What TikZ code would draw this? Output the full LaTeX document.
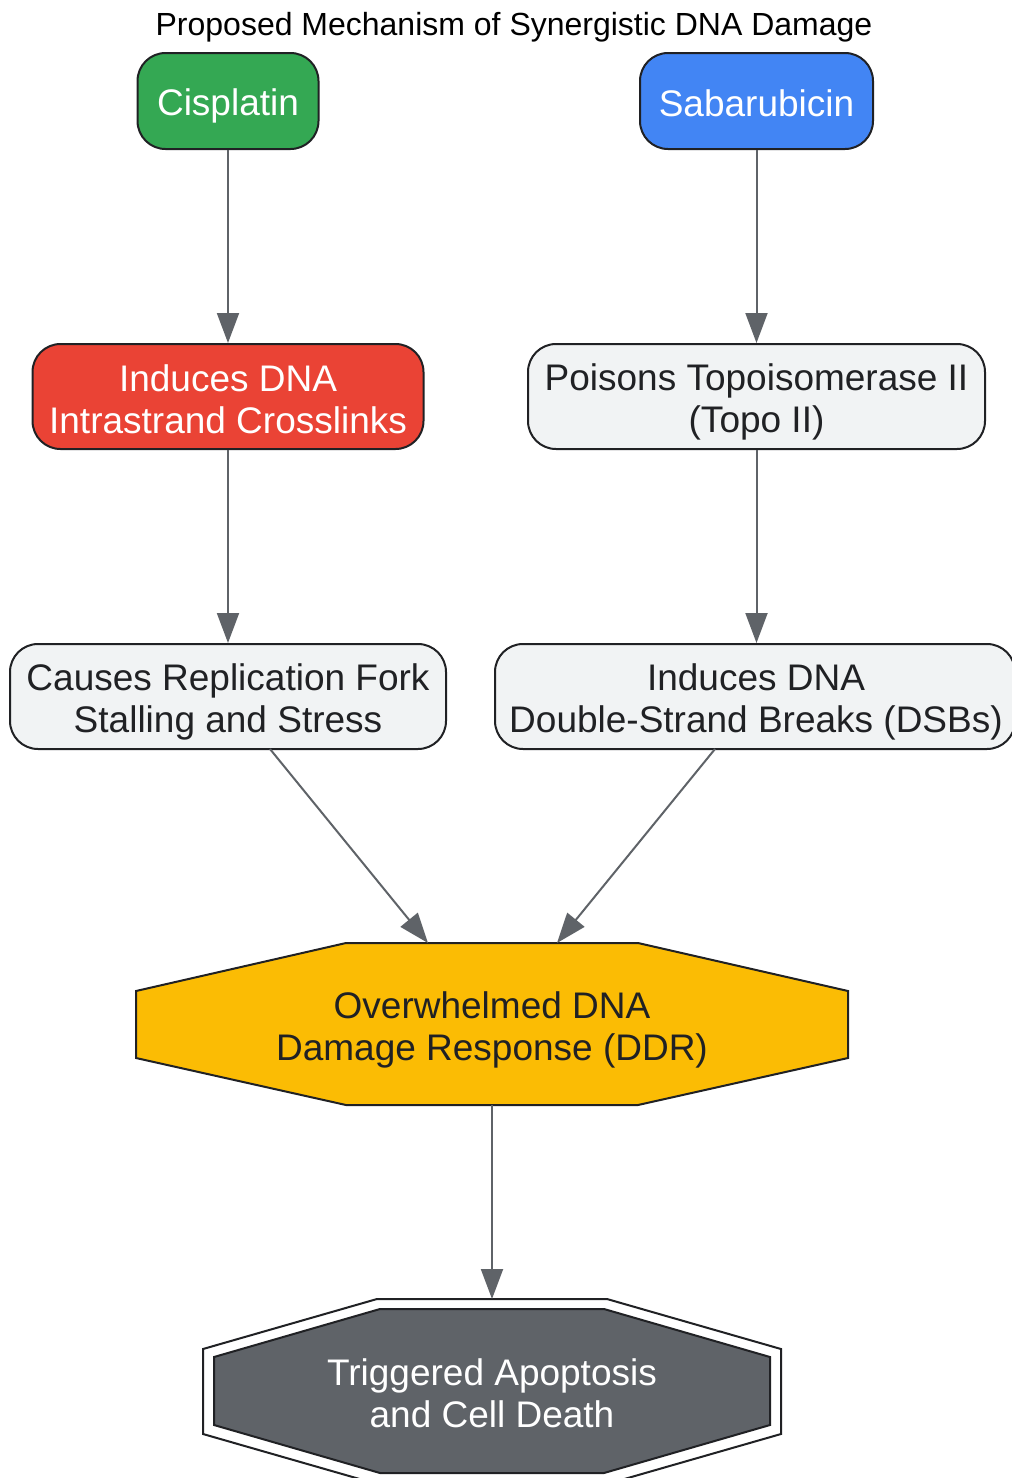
\documentclass[tikz,border=0pt]{standalone}
\usepackage{fontspec}
\setmainfont{Liberation Sans}
\usetikzlibrary{arrows.meta}
\definecolor{cgreen}{HTML}{34A853}
\definecolor{cblue}{HTML}{4285F4}
\definecolor{cred}{HTML}{EA4335}
\definecolor{clight}{HTML}{F1F3F4}
\definecolor{cyellow}{HTML}{FBBC04}
\definecolor{cgray}{HTML}{5F6368}
\definecolor{cdark}{HTML}{202124}
\tikzset{
  box/.style={draw=cdark, line width=2pt, rounded corners=28pt, inner sep=0pt},
  lbox/.style={box, fill=clight, minimum height=105pt},
  lbl/.style={align=center, inner sep=0pt, font=\fontsize{37}{42}\selectfont},
  shp/.style={draw=cdark, line width=2pt},
  arr/.style={draw=cgray, line width=2pt, -{Triangle[length=30pt, width=22pt]}},
}
\begin{document}
\begin{tikzpicture}[x=1pt, y=-1pt]
\useasboundingbox (0,0) rectangle (1012,1478);

\node[inner sep=0pt, font=\fontsize{32}{36}\selectfont] (title) at (514,27) {Proposed Mechanism of Synergistic DNA Damage};

\node[box, fill=cgreen, minimum width=181pt, minimum height=96pt,
  label={[lbl, text=white, yshift=-5pt]center:Cisplatin}] (cis) at (228,101) {};
\node[box, fill=cblue, minimum width=233pt, minimum height=96pt,
  label={[lbl, text=white, yshift=-2pt]center:Sabarubicin}] (sab) at (756.5,101) {};

\node[box, fill=cred, minimum width=391pt, minimum height=105pt,
  label={[lbl, text=white, yshift=-2.5pt]center:Induces DNA\\Intrastrand Crosslinks}] (xl) at (228,396.5) {};
\node[lbox, minimum width=457pt,
  label={[lbl, text=cdark, yshift=-5pt]center:Poisons Topoisomerase II\\(Topo II)}] (topo) at (756.5,396.5) {};

\node[lbox, minimum width=436pt,
  label={[lbl, text=cdark, yshift=-5pt]center:Causes Replication Fork\\Stalling and Stress}] (fork) at (228,696.5) {};
\node[lbox, minimum width=520pt,
  label={[lbl, text=cdark, yshift=-5pt, xshift=1pt]center:Induces DNA\\Double-Strand Breaks (DSBs)}] (dsb) at (755,696.5) {};

% DDR octagon
\draw[shp, fill=cyellow] (346,943) -- (638,943) -- (848,991) -- (848,1058) -- (638,1105) -- (346,1105) -- (136,1058) -- (136,991) -- cycle;
\node[lbl, text=cdark] (ddr) at (492,1030) {Overwhelmed DNA\\Damage Response (DDR)};
\coordinate (ddrL) at (428,943);
\coordinate (ddrR) at (557,943);
\coordinate (ddrbot) at (492,1105);

% Apoptosis double octagon
\draw[shp, fill=white] (377,1299) -- (607,1299) -- (781,1349) -- (781,1434) -- (607,1484) -- (377,1484) -- (203,1434) -- (203,1349) -- cycle;
\draw[shp, fill=cgray] (380,1309) -- (604,1309) -- (770,1357) -- (770,1425) -- (604,1473) -- (380,1473) -- (214,1425) -- (214,1357) -- cycle;
\node[lbl, text=white] (apo) at (492,1393) {Triggered Apoptosis\\and Cell Death};
\coordinate (apotop) at (492,1299);

% connectors
\draw[arr] (cis.south) -- (xl.north);
\draw[arr] (sab.south) -- (sab.south |- topo.north);
\draw[arr] (xl.south) -- (fork.north);
\draw[arr] (topo.south) -- (topo.south |- dsb.north);
\coordinate (forkout) at (270,749);
\coordinate (dsbout) at (715,749);
\draw[arr] (forkout) -- (ddrL);
\draw[arr] (dsbout) -- (ddrR);
\draw[arr] (ddrbot) -- (apotop);
\end{tikzpicture}
\end{document}
